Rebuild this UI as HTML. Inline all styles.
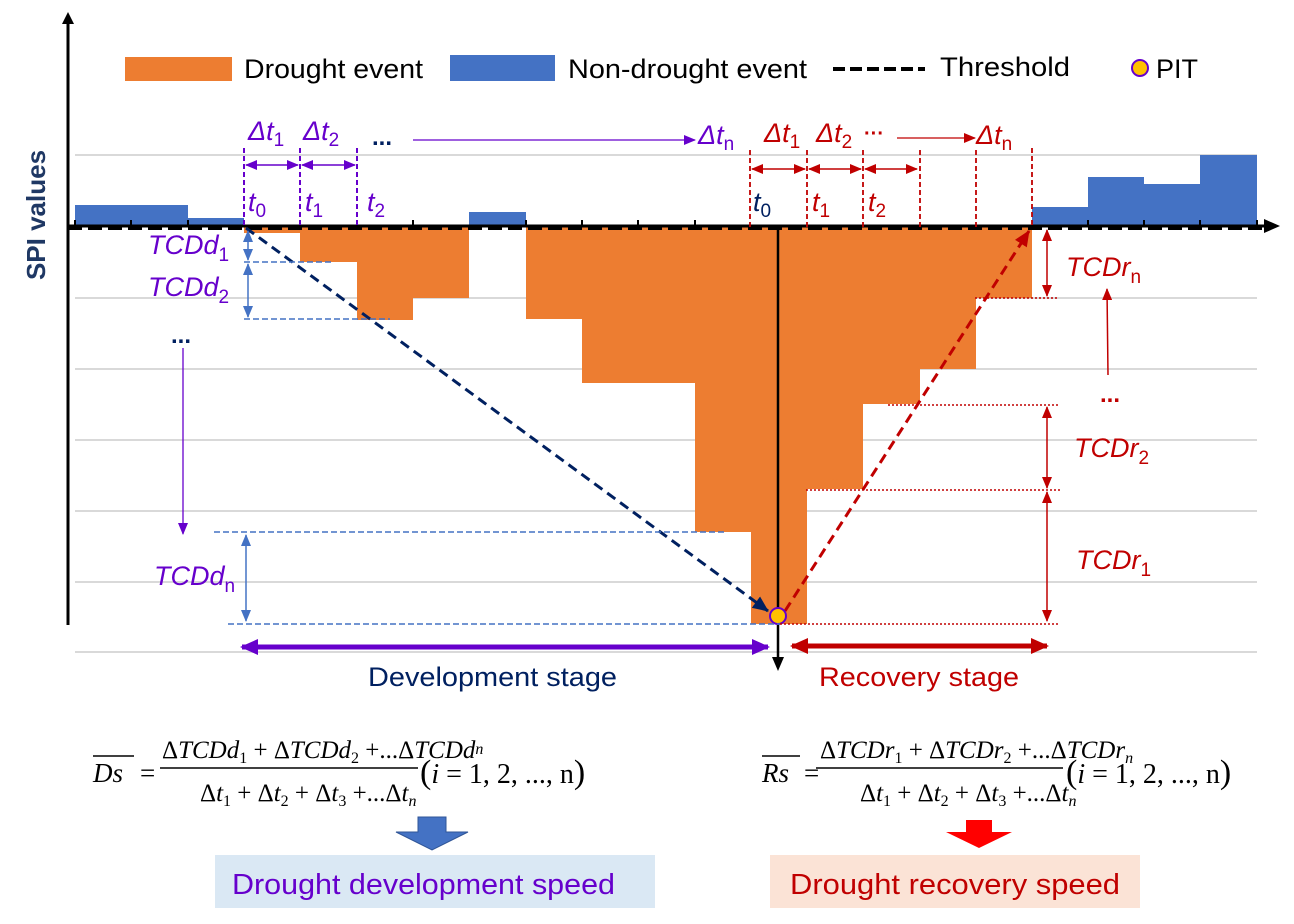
<!DOCTYPE html>
<html><head><meta charset="utf-8"><style>
html,body{margin:0;padding:0;background:#fff;}
svg text{font-family:"Liberation Sans",sans-serif;}
svg text.ser{font-family:"Liberation Serif",serif;}
</style></head><body>
<svg width="1294" height="919" viewBox="0 0 1294 919" xmlns="http://www.w3.org/2000/svg">
<defs>
<marker id="ap" markerWidth="12" markerHeight="10" refX="11" refY="5" orient="auto-start-reverse" markerUnits="userSpaceOnUse"><path d="M0,0 L12,5 L0,10z" fill="#6600cc"/></marker>
<marker id="ar" markerWidth="12" markerHeight="10" refX="11" refY="5" orient="auto-start-reverse" markerUnits="userSpaceOnUse"><path d="M0,0 L12,5 L0,10z" fill="#c00000"/></marker>
<marker id="abl" markerWidth="12" markerHeight="10" refX="11" refY="5" orient="auto-start-reverse" markerUnits="userSpaceOnUse"><path d="M0,0 L12,5 L0,10z" fill="#4472c4"/></marker>
<marker id="an" markerWidth="16" markerHeight="14" refX="15" refY="7" orient="auto" markerUnits="userSpaceOnUse"><path d="M0,0 L16,7 L0,14z" fill="#002060"/></marker>
<marker id="ard" markerWidth="16" markerHeight="14" refX="15" refY="7" orient="auto" markerUnits="userSpaceOnUse"><path d="M0,0 L16,7 L0,14z" fill="#c00000"/></marker>
<marker id="aps" markerWidth="18" markerHeight="16" refX="16" refY="8" orient="auto-start-reverse" markerUnits="userSpaceOnUse"><path d="M0,0 L18,8 L0,16z" fill="#6600cc"/></marker>
<marker id="ars" markerWidth="18" markerHeight="16" refX="16" refY="8" orient="auto-start-reverse" markerUnits="userSpaceOnUse"><path d="M0,0 L18,8 L0,16z" fill="#c00000"/></marker>
</defs>
<g stroke="#d9d9d9" stroke-width="2">
<line x1="75" y1="155" x2="1257" y2="155"/><line x1="75" y1="298" x2="1257" y2="298"/>
<line x1="75" y1="369" x2="1257" y2="369"/><line x1="75" y1="440" x2="1257" y2="440"/>
<line x1="75" y1="511" x2="1257" y2="511"/><line x1="75" y1="582" x2="1257" y2="582"/>
<line x1="75" y1="652" x2="1257" y2="652"/>
</g>
<!-- legend -->
<rect x="125" y="57" width="107" height="24" fill="#ed7d31"/>
<text x="244" y="78" font-size="27" textLength="179" lengthAdjust="spacingAndGlyphs">Drought event</text>
<rect x="450" y="55" width="105" height="26" fill="#4472c4"/>
<text x="568" y="78" font-size="27" textLength="239" lengthAdjust="spacingAndGlyphs">Non-drought event</text>
<line x1="833" y1="69" x2="925" y2="69" stroke="#000" stroke-width="4" stroke-dasharray="12,5"/>
<text x="940" y="76" font-size="27" textLength="130" lengthAdjust="spacingAndGlyphs">Threshold</text>
<circle cx="1140" cy="68" r="8" fill="#ffc000" stroke="#6600cc" stroke-width="2"/>
<text x="1156" y="78" font-size="27">PIT</text>
<text transform="translate(45,215) rotate(-90)" text-anchor="middle" font-size="26" font-weight="bold" fill="#1f3864">SPI values</text>
<!-- bars -->
<g fill="#4472c4">
<rect x="75" y="205" width="113" height="22"/><rect x="188" y="218" width="56" height="9"/>
<rect x="469" y="212" width="57" height="15"/>
<rect x="1032" y="207" width="56" height="20"/><rect x="1088" y="177" width="56" height="50"/>
<rect x="1144" y="184" width="56" height="43"/><rect x="1200" y="155" width="57" height="72"/>
</g>
<g fill="#ed7d31">
<rect x="244" y="227" width="56" height="6"/><rect x="300" y="227" width="57" height="35"/>
<rect x="357" y="227" width="56" height="93"/><rect x="413" y="227" width="56" height="71"/>
<rect x="526" y="227" width="56" height="92"/><rect x="582" y="227" width="113" height="156"/>
<rect x="695" y="227" width="56" height="305"/><rect x="751" y="227" width="56" height="397"/>
<rect x="807" y="227" width="56" height="262"/><rect x="863" y="227" width="57" height="177"/>
<rect x="920" y="227" width="56" height="142"/><rect x="976" y="227" width="56" height="71"/>
</g>
<line x1="68" y1="625" x2="68" y2="22" stroke="#000" stroke-width="3"/>
<path d="M62,24 L68,12 L74,24z" fill="#000"/>
<line x1="68" y1="226" x2="1266" y2="226" stroke="#000" stroke-width="3"/>
<path d="M1264,219 L1280,226 L1264,233z" fill="#000"/>
<line x1="68" y1="228" x2="1262" y2="228" stroke="#000" stroke-width="4" stroke-dasharray="14,6"/>
<g stroke="#000" stroke-width="2">
<line x1="75" y1="220" x2="75" y2="226"/><line x1="131" y1="220" x2="131" y2="226"/><line x1="188" y1="220" x2="188" y2="226"/>
<line x1="413" y1="220" x2="413" y2="226"/><line x1="526" y1="220" x2="526" y2="226"/><line x1="582" y1="220" x2="582" y2="226"/>
<line x1="638" y1="220" x2="638" y2="226"/><line x1="695" y1="220" x2="695" y2="226"/>
<line x1="1088" y1="220" x2="1088" y2="226"/><line x1="1144" y1="220" x2="1144" y2="226"/><line x1="1200" y1="220" x2="1200" y2="226"/><line x1="1257" y1="220" x2="1257" y2="226"/>
</g>
<line x1="778" y1="227" x2="778" y2="660" stroke="#000" stroke-width="2.5"/>
<path d="M772,657 L778,671 L784,657z" fill="#000"/>
<!-- top purple labels -->
<g font-style="italic" font-size="27" fill="#6600cc">
<text x="248" y="140">Δt<tspan font-size="19" dy="6" font-style="normal">1</tspan></text>
<text x="303" y="140">Δt<tspan font-size="19" dy="6" font-style="normal">2</tspan></text>
<text x="698" y="144">Δt<tspan font-size="19" dy="6" font-style="normal">n</tspan></text>
<text x="248" y="211">t<tspan font-size="19" dy="6" font-style="normal">0</tspan></text>
<text x="305" y="211">t<tspan font-size="19" dy="6" font-style="normal">1</tspan></text>
<text x="367" y="211">t<tspan font-size="19" dy="6" font-style="normal">2</tspan></text>
</g>
<text x="372" y="145" font-size="24" font-weight="bold" fill="#002060">...</text>
<line x1="413" y1="140" x2="695" y2="140" stroke="#6600cc" stroke-width="1.3" marker-end="url(#ap)"/>
<g stroke="#6600cc" stroke-width="2" stroke-dasharray="5,3">
<line x1="244" y1="148" x2="244" y2="227"/><line x1="300" y1="148" x2="300" y2="227"/><line x1="357" y1="148" x2="357" y2="227"/>
</g>
<g stroke="#6600cc" stroke-width="1.5">
<line x1="246" y1="165" x2="298" y2="165" marker-start="url(#ap)" marker-end="url(#ap)"/>
<line x1="302" y1="165" x2="355" y2="165" marker-start="url(#ap)" marker-end="url(#ap)"/>
</g>
<!-- top red labels -->
<g font-style="italic" font-size="27" fill="#c00000">
<text x="764" y="142">Δt<tspan font-size="19" dy="6" font-style="normal">1</tspan></text>
<text x="816" y="142">Δt<tspan font-size="19" dy="6" font-style="normal">2</tspan></text>
<text x="976" y="144">Δt<tspan font-size="19" dy="6" font-style="normal">n</tspan></text>
<text x="812" y="211">t<tspan font-size="19" dy="6" font-style="normal">1</tspan></text>
<text x="868" y="211">t<tspan font-size="19" dy="6" font-style="normal">2</tspan></text>
</g>
<text x="753" y="211" font-style="italic" font-size="27" fill="#002060">t<tspan font-size="19" dy="6" font-style="normal">0</tspan></text>
<text x="864" y="140" font-size="20" font-weight="bold" fill="#c00000">···</text>
<line x1="897" y1="138" x2="975" y2="138" stroke="#c00000" stroke-width="1.3" marker-end="url(#ar)"/>
<g stroke="#c00000" stroke-width="1.8" stroke-dasharray="5,3">
<line x1="750" y1="150" x2="750" y2="227"/><line x1="807" y1="150" x2="807" y2="227"/><line x1="863" y1="150" x2="863" y2="227"/>
<line x1="920" y1="150" x2="920" y2="227"/><line x1="976" y1="150" x2="976" y2="227"/><line x1="1032" y1="148" x2="1032" y2="227"/>
</g>
<g stroke="#c00000" stroke-width="1.5">
<line x1="752" y1="169" x2="805" y2="169" marker-start="url(#ar)" marker-end="url(#ar)"/>
<line x1="809" y1="169" x2="861" y2="169" marker-start="url(#ar)" marker-end="url(#ar)"/>
<line x1="865" y1="169" x2="917" y2="169" marker-start="url(#ar)" marker-end="url(#ar)"/>
</g>
<line x1="246" y1="228" x2="768" y2="611" stroke="#002060" stroke-width="3" stroke-dasharray="10,6" marker-end="url(#an)"/>
<line x1="785" y1="611" x2="1029" y2="231" stroke="#c00000" stroke-width="3" stroke-dasharray="10,6" marker-end="url(#ard)"/>
<circle cx="778" cy="616" r="8" fill="#ffc000" stroke="#6600cc" stroke-width="2"/>
<!-- left TCDd -->
<g stroke="#4472c4" stroke-width="1.5" stroke-dasharray="6,3">
<line x1="244" y1="262" x2="333" y2="262"/><line x1="244" y1="319" x2="390" y2="319"/>
<line x1="214" y1="532" x2="727" y2="532"/><line x1="228" y1="624" x2="780" y2="624"/>
</g>
<g stroke="#4472c4" stroke-width="1.5">
<line x1="248" y1="231" x2="248" y2="260" marker-start="url(#abl)" marker-end="url(#abl)"/>
<line x1="248" y1="264" x2="248" y2="317" marker-start="url(#abl)" marker-end="url(#abl)"/>
<line x1="246" y1="535" x2="246" y2="621" marker-start="url(#abl)" marker-end="url(#abl)"/>
</g>
<g font-style="italic" font-size="27" fill="#6600cc">
<text x="148" y="254">TCDd<tspan font-size="19" dy="7" font-style="normal">1</tspan></text>
<text x="148" y="296">TCDd<tspan font-size="19" dy="7" font-style="normal">2</tspan></text>
<text x="154" y="585">TCDd<tspan font-size="19" dy="7" font-style="normal">n</tspan></text>
</g>
<text x="171" y="343" font-size="24" font-weight="bold" fill="#002060">...</text>
<line x1="183" y1="348" x2="183" y2="534" stroke="#6600cc" stroke-width="1.3" marker-end="url(#ap)"/>
<!-- right TCDr -->
<g stroke="#c00000" stroke-width="1.5" stroke-dasharray="2,2">
<line x1="975" y1="298" x2="1058" y2="298"/><line x1="888" y1="405" x2="1058" y2="405"/>
<line x1="806" y1="490" x2="1060" y2="490"/><line x1="780" y1="624" x2="1058" y2="624"/>
</g>
<g stroke="#c00000" stroke-width="1.5">
<line x1="1047" y1="230" x2="1047" y2="296" marker-start="url(#ar)" marker-end="url(#ar)"/>
<line x1="1047" y1="407" x2="1047" y2="488" marker-start="url(#ar)" marker-end="url(#ar)"/>
<line x1="1047" y1="492" x2="1047" y2="621" marker-start="url(#ar)" marker-end="url(#ar)"/>
<line x1="1108" y1="375" x2="1107" y2="289" marker-end="url(#ar)"/>
</g>
<g font-style="italic" font-size="27" fill="#c00000">
<text x="1066" y="276">TCDr<tspan font-size="19" dy="7" font-style="normal">n</tspan></text>
<text x="1074" y="457">TCDr<tspan font-size="19" dy="7" font-style="normal">2</tspan></text>
<text x="1076" y="569">TCDr<tspan font-size="19" dy="7" font-style="normal">1</tspan></text>
</g>
<text x="1100" y="402" font-size="24" font-weight="bold" fill="#c00000">...</text>
<!-- stage arrows -->
<line x1="242" y1="647" x2="768" y2="647" stroke="#6600cc" stroke-width="5" marker-start="url(#aps)" marker-end="url(#aps)"/>
<line x1="792" y1="646" x2="1047" y2="646" stroke="#c00000" stroke-width="5" marker-start="url(#ars)" marker-end="url(#ars)"/>
<text x="368" y="686" font-size="27" textLength="249" lengthAdjust="spacingAndGlyphs" fill="#002060">Development stage</text>
<text x="819" y="686" font-size="27" textLength="200" lengthAdjust="spacingAndGlyphs" fill="#c00000">Recovery stage</text>
<!-- formulas -->
<g font-size="25" fill="#000">
<text x="93" y="782" font-style="italic" class="ser" font-size="27">Ds</text>
<line x1="93" y1="756" x2="134" y2="756" stroke="#000" stroke-width="1.5"/>
<text x="140" y="782" class="ser" font-size="27">=</text>
<text x="162" y="758" class="ser">Δ<tspan font-style="italic">TCDd</tspan><tspan font-size="16" dy="5">1</tspan><tspan dy="-5"> + Δ</tspan><tspan font-style="italic">TCDd</tspan><tspan font-size="16" dy="5">2</tspan><tspan dy="-5"> +...Δ</tspan><tspan font-style="italic">TCDd</tspan><tspan font-size="16" dy="-4" font-style="italic">n</tspan></text>
<line x1="160" y1="768" x2="418" y2="768" stroke="#000" stroke-width="1.5"/>
<text x="200" y="801" class="ser">Δ<tspan font-style="italic">t</tspan><tspan font-size="16" dy="5">1</tspan><tspan dy="-5"> + Δ</tspan><tspan font-style="italic">t</tspan><tspan font-size="16" dy="5">2</tspan><tspan dy="-5"> + Δ</tspan><tspan font-style="italic">t</tspan><tspan font-size="16" dy="5">3</tspan><tspan dy="-5"> +...Δ</tspan><tspan font-style="italic">t</tspan><tspan font-size="16" dy="5" font-style="italic">n</tspan></text>
<text x="420" y="783" font-size="28" class="ser"><tspan font-size="34">(</tspan><tspan font-style="italic">i</tspan> = 1, 2, ..., n<tspan font-size="34">)</tspan></text>

<text x="762" y="782" font-style="italic" class="ser" font-size="27">Rs</text>
<line x1="762" y1="756" x2="800" y2="756" stroke="#000" stroke-width="1.5"/>
<text x="804" y="782" class="ser" font-size="27">=</text>
<text x="820" y="758" class="ser">Δ<tspan font-style="italic">TCDr</tspan><tspan font-size="16" dy="5">1</tspan><tspan dy="-5"> + Δ</tspan><tspan font-style="italic">TCDr</tspan><tspan font-size="16" dy="5">2</tspan><tspan dy="-5"> +...Δ</tspan><tspan font-style="italic">TCDr</tspan><tspan font-size="16" dy="5" font-style="italic">n</tspan></text>
<line x1="816" y1="768" x2="1063" y2="768" stroke="#000" stroke-width="1.5"/>
<text x="860" y="801" class="ser">Δ<tspan font-style="italic">t</tspan><tspan font-size="16" dy="5">1</tspan><tspan dy="-5"> + Δ</tspan><tspan font-style="italic">t</tspan><tspan font-size="16" dy="5">2</tspan><tspan dy="-5"> + Δ</tspan><tspan font-style="italic">t</tspan><tspan font-size="16" dy="5">3</tspan><tspan dy="-5"> +...Δ</tspan><tspan font-style="italic">t</tspan><tspan font-size="16" dy="5" font-style="italic">n</tspan></text>
<text x="1066" y="783" font-size="28" class="ser"><tspan font-size="34">(</tspan><tspan font-style="italic">i</tspan> = 1, 2, ..., n<tspan font-size="34">)</tspan></text>
</g>
<path d="M418,817 L446,817 L446,832 L468,832 L432,850 L396,832 L418,832z" fill="#4472c4" stroke="#2f5597" stroke-width="1"/>
<path d="M966,820 L992,820 L992,832 L1012,832 L979,848 L946,832 L966,832z" fill="#ff0000"/>
<rect x="215" y="855" width="440" height="53" fill="#dae8f4"/>
<text x="232" y="894" font-size="29" fill="#6600cc" textLength="383" lengthAdjust="spacingAndGlyphs">Drought development speed</text>
<rect x="770" y="855" width="370" height="53" fill="#fbe3d6"/>
<text x="790" y="894" font-size="29" fill="#c00000" textLength="330" lengthAdjust="spacingAndGlyphs">Drought recovery speed</text>
</svg>
</body></html>
